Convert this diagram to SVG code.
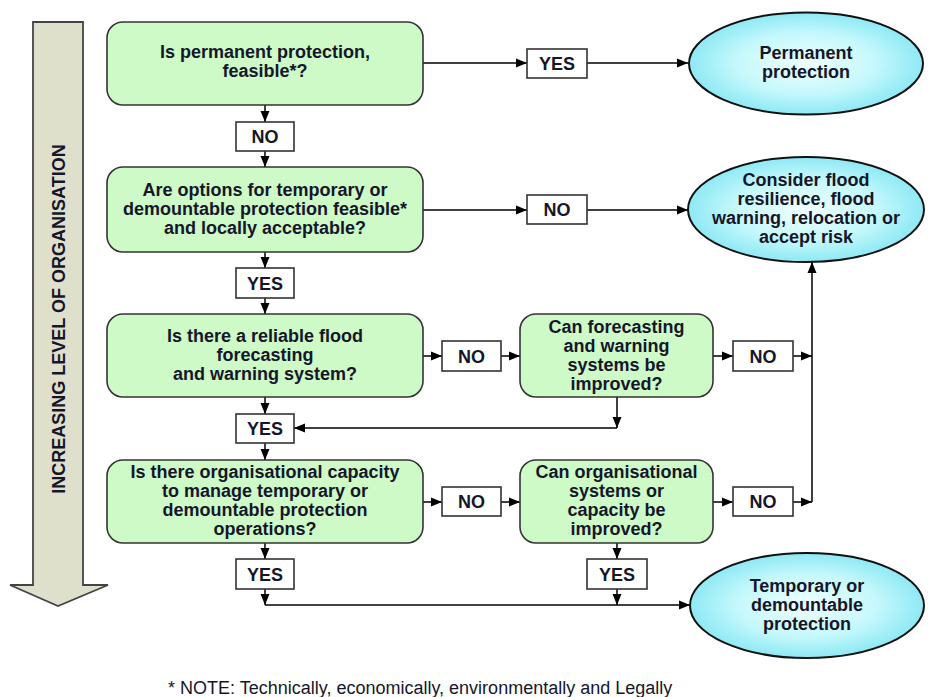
<svg xmlns="http://www.w3.org/2000/svg" width="928" height="697" viewBox="0 0 928 697">
<defs>
  <radialGradient id="cyan" cx="0.5" cy="0.5" r="0.5">
    <stop offset="0" stop-color="#f0ffff"/>
    <stop offset="0.6" stop-color="#c4f8fc"/>
    <stop offset="1" stop-color="#8ee9f4"/>
  </radialGradient>
  <marker id="ah" markerUnits="userSpaceOnUse" markerWidth="12" markerHeight="10" refX="11" refY="5" orient="auto">
    <path d="M0,0.5 L11,5 L0,9.5 z" fill="#000"/>
  </marker>
  <style>
    .box { fill: #cdfac6; stroke: #333; stroke-width: 1.6; }
    .lbl { fill: #fff; stroke: #333; stroke-width: 1.6; }
    .ell { fill: url(#cyan); stroke: #111; stroke-width: 2; }
    .t { font-family: "Liberation Sans", Arial, sans-serif; font-weight: bold; font-size: 18px; fill: #16162a; text-anchor: middle; }
    .note { font-family: "Liberation Sans", Arial, sans-serif; font-size: 18px; fill: #16162a; }
    .c { fill: none; stroke: #000; stroke-width: 1.5; }
    .ca { fill: none; stroke: #000; stroke-width: 1.5; marker-end: url(#ah); }
  </style>
</defs>
<rect width="928" height="697" fill="#fff"/>

<g id="side-arrow">
  <path d="M33,22 L83,22 L83,585 L108,585 L58,606 L10,585 L33,585 Z" fill="#dfe0cc" stroke="#444" stroke-width="1.8"/>
  <text class="t" transform="translate(65,319) rotate(-90)">INCREASING LEVEL OF ORGANISATION</text>
</g>

<g id="connectors">
  <path class="ca" d="M423,63 L527,63"/>
  <path class="ca" d="M587,63 L688,63"/>
  <path class="ca" d="M265,105 L265,122"/>
  <path class="ca" d="M265,151 L265,167"/>
  <path class="ca" d="M423,210 L527,210"/>
  <path class="ca" d="M587,210 L688,210"/>
  <path class="ca" d="M265,252 L265,268"/>
  <path class="ca" d="M265,298 L265,314"/>
  <path class="ca" d="M423,356 L442,356"/>
  <path class="ca" d="M501,356 L520,356"/>
  <path class="ca" d="M713,356 L733,356"/>
  <path class="ca" d="M793,356 L812,356"/>
  <path class="ca" d="M812,502 L812,262"/>
  <path class="ca" d="M617,397 L617,428"/>
  <path class="ca" d="M617,428 L294,428"/>
  <path class="ca" d="M265,397 L265,414"/>
  <path class="ca" d="M265,443 L265,460"/>
  <path class="ca" d="M423,502 L442,502"/>
  <path class="ca" d="M501,502 L520,502"/>
  <path class="ca" d="M713,502 L733,502"/>
  <path class="ca" d="M793,502 L812,502"/>
  <path class="ca" d="M265,543 L265,559"/>
  <path class="ca" d="M265,589 L265,605"/>
  <path class="ca" d="M265,605 L690,605"/>
  <path class="ca" d="M617,543 L617,559"/>
  <path class="ca" d="M617,589 L617,605"/>
</g>

<g id="q1">
  <rect class="box" x="107" y="22" width="316" height="83" rx="16"/>
  <text class="t" x="265" y="58">Is permanent protection,</text>
  <text class="t" x="265" y="77">feasible*?</text>
</g>
<g id="q2">
  <rect class="box" x="107" y="167" width="316" height="85" rx="16"/>
  <text class="t" x="265" y="196">Are options for temporary or</text>
  <text class="t" x="265" y="215">demountable protection feasible*</text>
  <text class="t" x="265" y="234">and locally acceptable?</text>
</g>
<g id="q3">
  <rect class="box" x="107" y="314" width="316" height="83" rx="16"/>
  <text class="t" x="265" y="342">Is there a reliable flood</text>
  <text class="t" x="265" y="361">forecasting</text>
  <text class="t" x="265" y="380">and warning system?</text>
</g>
<g id="q4">
  <rect class="box" x="107" y="460" width="316" height="83" rx="16"/>
  <text class="t" x="265" y="478">Is there organisational capacity</text>
  <text class="t" x="265" y="497">to manage temporary or</text>
  <text class="t" x="265" y="516">demountable protection</text>
  <text class="t" x="265" y="535">operations?</text>
</g>
<g id="q5">
  <rect class="box" x="520" y="314" width="193" height="83" rx="16"/>
  <text class="t" x="616.5" y="333">Can forecasting</text>
  <text class="t" x="616.5" y="352">and warning</text>
  <text class="t" x="616.5" y="371">systems be</text>
  <text class="t" x="616.5" y="390">improved?</text>
</g>
<g id="q6">
  <rect class="box" x="520" y="460" width="193" height="83" rx="16"/>
  <text class="t" x="616.5" y="478">Can organisational</text>
  <text class="t" x="616.5" y="497">systems or</text>
  <text class="t" x="616.5" y="516">capacity be</text>
  <text class="t" x="616.5" y="535">improved?</text>
</g>

<g id="e1">
  <ellipse class="ell" cx="806" cy="63.5" rx="117" ry="51"/>
  <text class="t" x="806" y="59">Permanent</text>
  <text class="t" x="806" y="78">protection</text>
</g>
<g id="e2">
  <ellipse class="ell" cx="806" cy="209.5" rx="118" ry="52.5"/>
  <text class="t" x="806" y="186">Consider flood</text>
  <text class="t" x="806" y="205">resilience, flood</text>
  <text class="t" x="806" y="224">warning, relocation or</text>
  <text class="t" x="806" y="243">accept risk</text>
</g>
<g id="e3">
  <ellipse class="ell" cx="807" cy="605.5" rx="117" ry="52.5"/>
  <text class="t" x="807" y="592">Temporary or</text>
  <text class="t" x="807" y="611">demountable</text>
  <text class="t" x="807" y="630">protection</text>
</g>

<g id="l-yes1"><rect class="lbl" x="527" y="49" width="60" height="29"/><text class="t" x="557" y="70">YES</text></g>
<g id="l-no1"><rect class="lbl" x="236" y="122" width="58" height="29"/><text class="t" x="265" y="143">NO</text></g>
<g id="l-no2"><rect class="lbl" x="527" y="195" width="60" height="29"/><text class="t" x="557" y="216">NO</text></g>
<g id="l-yes2"><rect class="lbl" x="236" y="268" width="58" height="30"/><text class="t" x="265" y="290">YES</text></g>
<g id="l-no3"><rect class="lbl" x="442" y="341" width="59" height="30"/><text class="t" x="471.5" y="363">NO</text></g>
<g id="l-no4"><rect class="lbl" x="733" y="341" width="60" height="30"/><text class="t" x="763" y="363">NO</text></g>
<g id="l-yes3"><rect class="lbl" x="236" y="414" width="58" height="29"/><text class="t" x="265" y="435">YES</text></g>
<g id="l-no5"><rect class="lbl" x="442" y="487" width="59" height="29"/><text class="t" x="471.5" y="508">NO</text></g>
<g id="l-no6"><rect class="lbl" x="733" y="487" width="60" height="29"/><text class="t" x="763" y="508">NO</text></g>
<g id="l-yes4"><rect class="lbl" x="236" y="559" width="58" height="30"/><text class="t" x="265" y="581">YES</text></g>
<g id="l-yes5"><rect class="lbl" x="587" y="559" width="60" height="30"/><text class="t" x="617" y="581">YES</text></g>

<g id="note">
  <text class="note" x="168" y="694">* NOTE: Technically, economically, environmentally and Legally</text>
</g>
</svg>
